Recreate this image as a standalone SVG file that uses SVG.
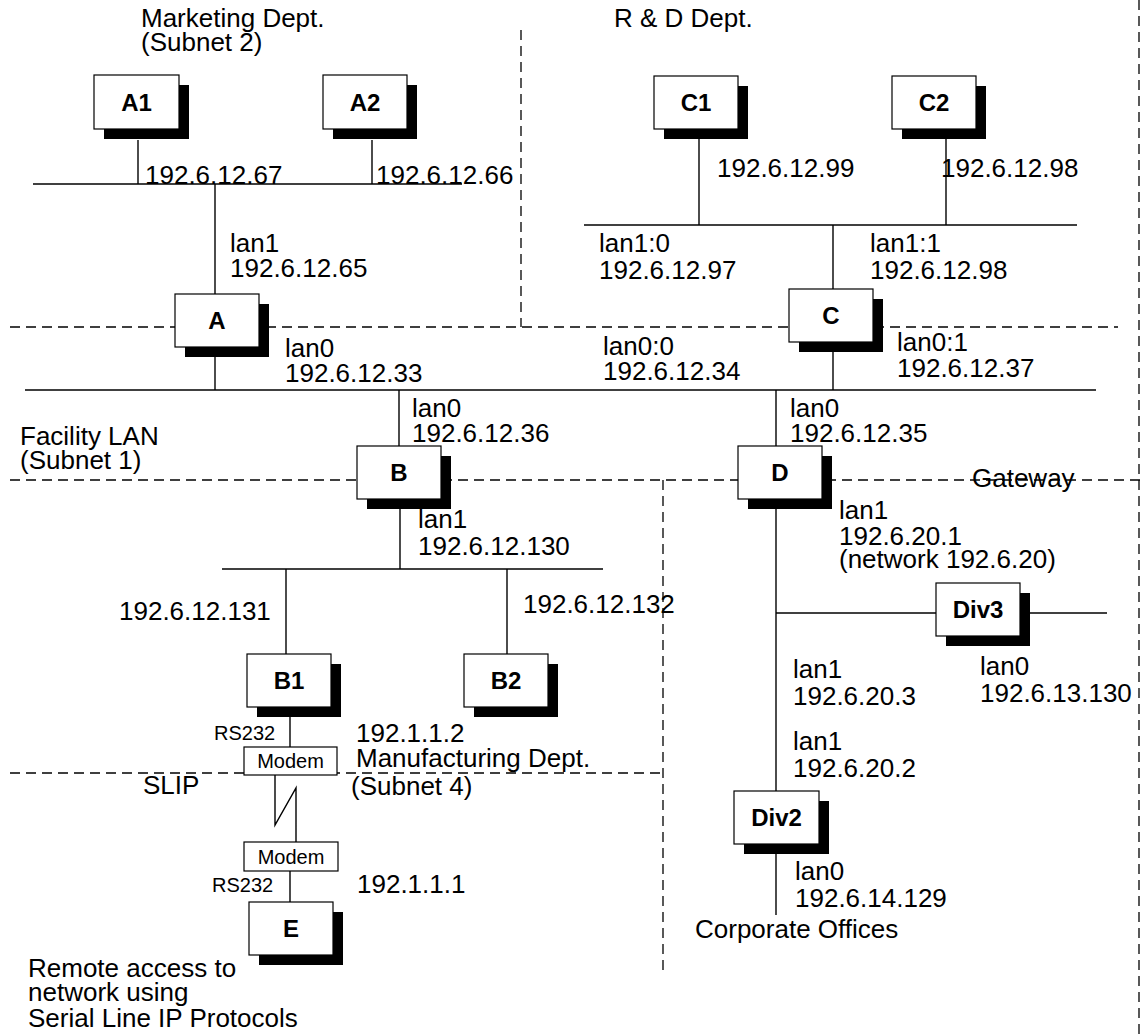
<svg xmlns="http://www.w3.org/2000/svg" width="1143" height="1034" viewBox="0 0 1143 1034">
  <style>
    text { font-family: "Liberation Sans", Arial, Helvetica, sans-serif; fill: #000; }
    .t { font-size: 26px; }
    .s { font-size: 20px; }
    .lbl { font-size: 24px; font-weight: bold; text-anchor: middle; }
    .mdm { font-size: 20px; text-anchor: middle; }
    .ln { stroke: #000; stroke-width: 1.4; fill: none; }
    .dash { stroke: #000; stroke-width: 1.3; fill: none; stroke-dasharray: 10 6; }
    .box { fill: #fff; stroke: #000; stroke-width: 1.2; }
    .shadow { fill: #000; }
  </style>

  <rect width="1143" height="1034" fill="#fff"/>

  <!-- subnet boundaries -->
  <g id="boundaries">
    <line class="dash" x1="521" y1="30" x2="521" y2="327"/>
    <line class="dash" x1="10" y1="327" x2="1118" y2="327"/>
    <line class="dash" x1="10" y1="480" x2="1143" y2="480"/>
    <line class="dash" x1="663" y1="480" x2="663" y2="970"/>
    <line class="dash" x1="10" y1="773" x2="663" y2="773"/>
    <line class="dash" x1="1139" y1="0" x2="1139" y2="1034"/>
  </g>

  <!-- network segments and links -->
  <g id="connectors">
    <line class="ln" x1="33" y1="184" x2="462" y2="184"/>
    <line class="ln" x1="138" y1="140" x2="138" y2="184"/>
    <line class="ln" x1="372" y1="140" x2="372" y2="184"/>
    <line class="ln" x1="215" y1="184" x2="215" y2="294"/>
    <line class="ln" x1="215" y1="357" x2="215" y2="390"/>
    <line class="ln" x1="25" y1="390" x2="1096" y2="390"/>
    <line class="ln" x1="584" y1="225" x2="1077" y2="225"/>
    <line class="ln" x1="699" y1="139" x2="699" y2="225"/>
    <line class="ln" x1="946" y1="139" x2="946" y2="225"/>
    <line class="ln" x1="833" y1="225" x2="833" y2="289"/>
    <line class="ln" x1="833" y1="352" x2="833" y2="390"/>
    <line class="ln" x1="399" y1="390" x2="399" y2="446"/>
    <line class="ln" x1="400" y1="509" x2="400" y2="569"/>
    <line class="ln" x1="222" y1="569" x2="603" y2="569"/>
    <line class="ln" x1="286" y1="569" x2="286" y2="654"/>
    <line class="ln" x1="507" y1="569" x2="507" y2="654"/>
    <line class="ln" x1="290" y1="717" x2="290" y2="747"/>
    <polyline class="ln" points="275,775 275,825 296,788 296,842"/>
    <line class="ln" x1="290" y1="871" x2="290" y2="902"/>
    <line class="ln" x1="776" y1="390" x2="776" y2="446"/>
    <line class="ln" x1="776" y1="509" x2="776" y2="791"/>
    <line class="ln" x1="776" y1="613" x2="1107" y2="613"/>
    <line class="ln" x1="776" y1="854" x2="776" y2="915"/>
  </g>

  <!-- hosts -->
  <g id="A1"><rect class="shadow" x="104" y="85" width="85" height="54"/><rect class="box" x="94" y="75" width="85" height="54"/><text class="lbl" x="136.5" y="111">A1</text></g>
  <g id="A2"><rect class="shadow" x="333" y="85" width="84" height="54"/><rect class="box" x="323" y="75" width="84" height="54"/><text class="lbl" x="365" y="111">A2</text></g>
  <g id="C1"><rect class="shadow" x="664" y="86" width="84" height="53"/><rect class="box" x="654" y="76" width="84" height="53"/><text class="lbl" x="696" y="111">C1</text></g>
  <g id="C2"><rect class="shadow" x="902" y="86" width="84" height="53"/><rect class="box" x="892" y="76" width="84" height="53"/><text class="lbl" x="934" y="111">C2</text></g>
  <g id="A"><rect class="shadow" x="185" y="304" width="84" height="53"/><rect class="box" x="175" y="294" width="84" height="53"/><text class="lbl" x="217" y="329">A</text></g>
  <g id="C"><rect class="shadow" x="799" y="299" width="84" height="53"/><rect class="box" x="789" y="289" width="84" height="53"/><text class="lbl" x="831" y="324">C</text></g>
  <g id="B"><rect class="shadow" x="367" y="456" width="84" height="53"/><rect class="box" x="357" y="446" width="84" height="53"/><text class="lbl" x="399" y="481">B</text></g>
  <g id="D"><rect class="shadow" x="748" y="456" width="84" height="53"/><rect class="box" x="738" y="446" width="84" height="53"/><text class="lbl" x="780" y="481">D</text></g>
  <g id="B1"><rect class="shadow" x="257" y="664" width="84" height="53"/><rect class="box" x="247" y="654" width="84" height="53"/><text class="lbl" x="289" y="689">B1</text></g>
  <g id="B2"><rect class="shadow" x="474" y="664" width="84" height="53"/><rect class="box" x="464" y="654" width="84" height="53"/><text class="lbl" x="506" y="689">B2</text></g>
  <g id="Div3"><rect class="shadow" x="946" y="593" width="84" height="53"/><rect class="box" x="936" y="583" width="84" height="53"/><text class="lbl" x="978" y="618">Div3</text></g>
  <g id="Div2"><rect class="shadow" x="744" y="801" width="85" height="53"/><rect class="box" x="734" y="791" width="85" height="53"/><text class="lbl" x="776.5" y="826">Div2</text></g>
  <g id="E"><rect class="shadow" x="259" y="912" width="84" height="53"/><rect class="box" x="249" y="902" width="84" height="53"/><text class="lbl" x="291" y="937">E</text></g>

  <!-- modems on the serial line -->
  <g id="modem1"><rect class="box" x="244" y="747" width="93" height="28"/><text class="mdm" x="290.5" y="768">Modem</text></g>
  <g id="modem2"><rect class="box" x="244" y="842" width="94" height="29"/><text class="mdm" x="291" y="864">Modem</text></g>

  <!-- labels -->
  <g id="labels">
    <text class="t" x="141" y="27">Marketing Dept.</text>
    <text class="t" x="141" y="51">(Subnet 2)</text>
    <text class="t" x="614" y="27">R &amp; D Dept.</text>
    <text class="t" x="145" y="184">192.6.12.67</text>
    <text class="t" x="376" y="184">192.6.12.66</text>
    <text class="t" x="717" y="177">192.6.12.99</text>
    <text class="t" x="941" y="177">192.6.12.98</text>
    <text class="t" x="230" y="252">lan1</text>
    <text class="t" x="230" y="277">192.6.12.65</text>
    <text class="t" x="599" y="252">lan1:0</text>
    <text class="t" x="599" y="279">192.6.12.97</text>
    <text class="t" x="870" y="252">lan1:1</text>
    <text class="t" x="870" y="279">192.6.12.98</text>
    <text class="t" x="285" y="357">lan0</text>
    <text class="t" x="285" y="382">192.6.12.33</text>
    <text class="t" x="603" y="355">lan0:0</text>
    <text class="t" x="603" y="380">192.6.12.34</text>
    <text class="t" x="897" y="351">lan0:1</text>
    <text class="t" x="897" y="377">192.6.12.37</text>
    <text class="t" x="412" y="417">lan0</text>
    <text class="t" x="412" y="442">192.6.12.36</text>
    <text class="t" x="790" y="417">lan0</text>
    <text class="t" x="790" y="442">192.6.12.35</text>
    <text class="t" x="20" y="445">Facility LAN</text>
    <text class="t" x="20" y="469">(Subnet 1)</text>
    <text class="t" x="972" y="487">Gateway</text>
    <text class="t" x="418" y="528">lan1</text>
    <text class="t" x="418" y="555">192.6.12.130</text>
    <text class="t" x="839" y="519">lan1</text>
    <text class="t" x="839" y="545">192.6.20.1</text>
    <text class="t" x="839" y="568">(network 192.6.20)</text>
    <text class="t" x="119" y="620">192.6.12.131</text>
    <text class="t" x="523" y="613">192.6.12.132</text>
    <text class="t" x="793" y="678">lan1</text>
    <text class="t" x="793" y="705">192.6.20.3</text>
    <text class="t" x="980" y="675">lan0</text>
    <text class="t" x="980" y="702">192.6.13.130</text>
    <text class="s" x="214" y="740">RS232</text>
    <text class="t" x="356" y="742">192.1.1.2</text>
    <text class="t" x="356" y="767">Manufacturing Dept.</text>
    <text class="t" x="351" y="795">(Subnet 4)</text>
    <text class="t" x="143" y="794">SLIP</text>
    <text class="t" x="793" y="750">lan1</text>
    <text class="t" x="793" y="777">192.6.20.2</text>
    <text class="s" x="212" y="892">RS232</text>
    <text class="t" x="357" y="893">192.1.1.1</text>
    <text class="t" x="795" y="880">lan0</text>
    <text class="t" x="795" y="907">192.6.14.129</text>
    <text class="t" x="695" y="938">Corporate Offices</text>
    <text class="t" x="28" y="977">Remote access to</text>
    <text class="t" x="28" y="1001">network using</text>
    <text class="t" x="28" y="1027">Serial Line IP Protocols</text>
  </g>
</svg>
